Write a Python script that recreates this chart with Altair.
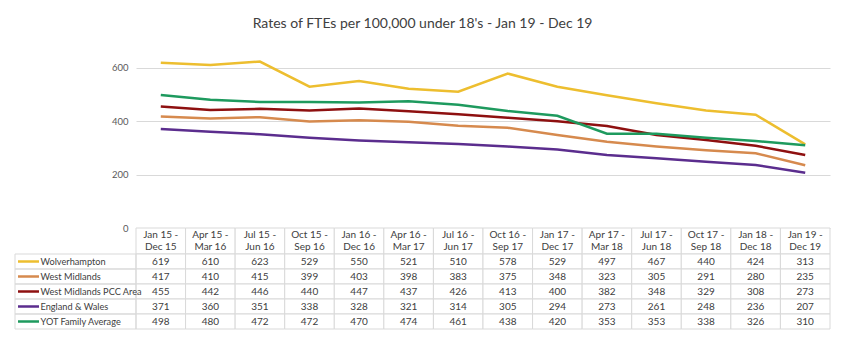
import altair as alt
import pandas as pd

periods = ["Jan 15 - Dec 15", "Apr 15 - Mar 16", "Jul 15 - Jun 16", "Oct 15 - Sep 16",
           "Jan 16 - Dec 16", "Apr 16 - Mar 17", "Jul 16 - Jun 17", "Oct 16 - Sep 17",
           "Jan 17 - Dec 17", "Apr 17 - Mar 18", "Jul 17 - Jun 18", "Oct 17 - Sep 18",
           "Jan 18 - Dec 18", "Jan 19 - Dec 19"]
series_names = ["Wolverhampton", "West Midlands", "West Midlands PCC Area",
                "England & Wales", "YOT Family Average"]
wolverhampton = [619, 610, 623, 529, 550, 521, 510, 578, 529, 497, 467, 440, 424, 313]
west_midlands = [417, 410, 415, 399, 403, 398, 383, 375, 348, 323, 305, 291, 280, 235]
wm_pcc_area = [455, 442, 446, 440, 447, 437, 426, 413, 400, 382, 348, 329, 308, 273]
england_wales = [371, 360, 351, 338, 328, 321, 314, 305, 294, 273, 261, 248, 236, 207]
yot_family = [498, 480, 472, 472, 470, 474, 461, 438, 420, 353, 353, 338, 326, 310]
colors = ["#EDBE2F", "#D68A4E", "#8E1010", "#5B2D8E", "#1E9A5E"]

all_values = [wolverhampton, west_midlands, wm_pcc_area, england_wales, yot_family]
rows = []
for s, vals in zip(series_names, all_values):
    for p, v in zip(periods, vals):
        rows.append({"series": s, "period": p, "value": v})
df = pd.DataFrame(rows)
hdr = pd.DataFrame({"period": periods,
                    "label": [p.replace(" - ", " -\n") for p in periods]})
legend_df = pd.DataFrame({"series": series_names})

FONT = "Lato"
TXT = "#404040"
GRID = "#d9d9d9"
W = 694

color = alt.Color("series:N", sort=series_names,
                  scale=alt.Scale(domain=series_names, range=colors), legend=None)

# ---- line chart ----
x_pt = alt.X("period:N", sort=periods, scale=alt.Scale(type="point", padding=0.5), axis=None)
lines = alt.Chart(df).mark_line(strokeWidth=2.5).encode(
    x=x_pt,
    y=alt.Y("value:Q", scale=alt.Scale(domain=[0, 700], nice=False),
            axis=alt.Axis(values=[0, 200, 400, 600], title=None, domain=False, ticks=False,
                          labelPadding=8, labelColor="#595959", labelFontSize=9.5,
                          labelFont=FONT, gridColor=GRID, gridWidth=1)),
    color=color,
).properties(width=W, height=187)

# ---- table header ----
x_band = alt.X("period:N", sort=periods,
               scale=alt.Scale(type="band", paddingInner=0, paddingOuter=0), axis=None)
x_band_c = alt.X("period:N", sort=periods, bandPosition=0.5,
                 scale=alt.Scale(type="band", paddingInner=0, paddingOuter=0), axis=None)
header_cells = alt.Chart(hdr).mark_rect(fill="white", stroke=GRID, strokeWidth=1).encode(x=x_band)
header_text = alt.Chart(hdr).mark_text(lineBreak="\n", lineHeight=12, fontSize=10, font=FONT,
                                       color=TXT, baseline="middle", dy=-6).encode(
    x=x_band_c, text="label:N")
header = alt.layer(header_cells, header_text).properties(width=W, height=26)

# ---- table body ----
y_axis = alt.Axis(title=None, domain=False, ticks=False, tickSize=0, labelAlign="left",
                  labelPadding=96, labelFontSize=9.2, labelColor=TXT, labelFont=FONT,
                  labelLimit=0)
y_band = alt.Y("series:N", sort=series_names,
               scale=alt.Scale(type="band", paddingInner=0, paddingOuter=0), axis=y_axis)
y_band_c = alt.Y("series:N", sort=series_names, bandPosition=0.5,
                 scale=alt.Scale(type="band", paddingInner=0, paddingOuter=0), axis=y_axis)
cells = alt.Chart(df).mark_rect(fill="white", stroke=GRID, strokeWidth=1).encode(x=x_band, y=y_band)
values = alt.Chart(df).mark_text(fontSize=10, font=FONT, color=TXT, baseline="middle").encode(
    x=x_band_c, y=y_band_c, text="value:Q")
label_cells = alt.Chart(legend_df).mark_rect(fill="white", fillOpacity=0, stroke=GRID,
                                             strokeWidth=1).encode(
    x=alt.value(-121), x2=alt.value(0), y=y_band)
swatches = alt.Chart(legend_df).mark_rule(strokeWidth=2.5).encode(
    x=alt.value(-118), x2=alt.value(-97), y=y_band_c, color=color)
body = alt.layer(cells, values, label_cells, swatches).properties(width=W, height=75)

chart = alt.vconcat(lines, header, body, spacing=0, bounds="flush").resolve_scale(
    x="independent", y="independent"
).properties(
    title=alt.TitleParams("Rates of FTEs per 100,000 under 18's - Jan 19 - Dec 19",
                          fontSize=14, font=FONT, color=TXT, fontWeight="normal",
                          anchor="middle", offset=10),
    padding={"left": 6, "top": 9, "right": 5, "bottom": 5},
    background="white",
).configure_view(stroke=None)

chart.save("out.html", embed_options={"renderer": "svg", "actions": False})
